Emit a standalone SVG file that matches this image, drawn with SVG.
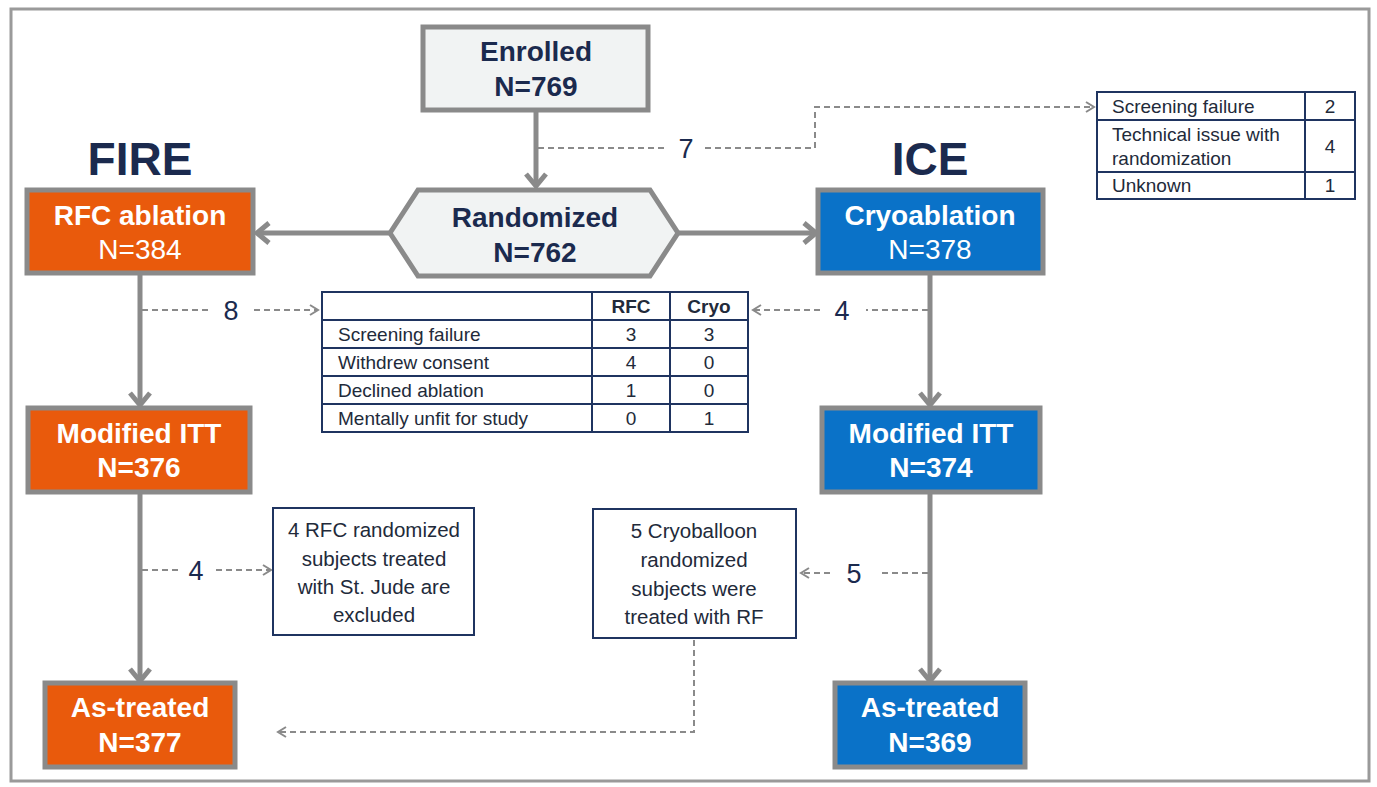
<svg xmlns="http://www.w3.org/2000/svg" width="1377" height="787" viewBox="0 0 1377 787">
<style>
.t{font-family:"Liberation Sans",Arial,sans-serif;}
.b{font-weight:bold;}
.navy{fill:#1b2a4e;}
.w{fill:#ffffff;}
.box{stroke:#8a8a8a;stroke-width:5;}
.orange{fill:#e95a0c;}
.blue{fill:#0a72c8;}
.gray{fill:#f1f3f3;}
.solid{stroke:#8a8a8a;stroke-width:5;fill:none;}
.dash{stroke:#8a8a8a;stroke-width:2;stroke-dasharray:6,4;fill:none;}
.tbl{fill:#ffffff;stroke:#1f3460;stroke-width:2;}
.tl{stroke:#1f3460;stroke-width:2;}
.lbl{font-size:27px;}
.cell{font-size:19px;fill:#222a3a;}
.note{font-size:20.5px;fill:#222a3a;}
</style>
<defs>
<marker id="ah" markerUnits="userSpaceOnUse" markerWidth="30" markerHeight="30" refX="14" refY="12" orient="auto" viewBox="0 0 30 24">
<path d="M2,2 L14,12 L2,22" fill="none" stroke="#8a8a8a" stroke-width="5"/>
</marker>
<marker id="dh" markerUnits="userSpaceOnUse" markerWidth="14" markerHeight="14" refX="9" refY="6" orient="auto" viewBox="0 0 14 12">
<path d="M1,1 L9,6 L1,11" fill="none" stroke="#8a8a8a" stroke-width="2"/>
</marker>
</defs>
<rect x="0" y="0" width="1377" height="787" fill="#ffffff"/>
<rect x="11" y="9" width="1358" height="772" fill="none" stroke="#9a9a9a" stroke-width="3"/>

<g id="connectors">
<line class="solid" x1="536" y1="110" x2="536" y2="186" marker-end="url(#ah)"/>
<line class="solid" x1="390" y1="233" x2="257" y2="233" marker-end="url(#ah)"/>
<line class="solid" x1="678" y1="233" x2="816" y2="233" marker-end="url(#ah)"/>
<line class="solid" x1="140" y1="273" x2="140" y2="405" marker-end="url(#ah)"/>
<line class="solid" x1="930" y1="273" x2="930" y2="405" marker-end="url(#ah)"/>
<line class="solid" x1="140" y1="492" x2="140" y2="681" marker-end="url(#ah)"/>
<line class="solid" x1="930" y1="492" x2="930" y2="681" marker-end="url(#ah)"/>
<path class="dash" d="M538,148 L668,148"/>
<path class="dash" d="M705,148 L815,148 L815,107 L1094,107" marker-end="url(#dh)"/>
<path class="dash" d="M142,310 L208,310"/>
<path class="dash" d="M254,310 L318,310" marker-end="url(#dh)"/>
<path class="dash" d="M928,310 L866,310"/>
<path class="dash" d="M820,310 L753,310" marker-end="url(#dh)"/>
<path class="dash" d="M142,570 L178,570"/>
<path class="dash" d="M216,570 L271,570" marker-end="url(#dh)"/>
<path class="dash" d="M928,573 L880,573"/>
<path class="dash" d="M830,573 L801,573" marker-end="url(#dh)"/>
<path class="dash" d="M694,640 L694,732 L278,732" marker-end="url(#dh)"/>
<text class="t navy lbl" x="686" y="158" text-anchor="middle">7</text>
<text class="t navy lbl" x="231" y="320" text-anchor="middle">8</text>
<text class="t navy lbl" x="842" y="320" text-anchor="middle">4</text>
<text class="t navy lbl" x="196" y="580" text-anchor="middle">4</text>
<text class="t navy lbl" x="854" y="583" text-anchor="middle">5</text>
</g>

<g id="fire-label"><text class="t b navy" x="140" y="175" font-size="46" text-anchor="middle">FIRE</text></g>
<g id="ice-label"><text class="t b navy" x="930" y="175" font-size="46" text-anchor="middle">ICE</text></g>

<g id="enrolled">
<rect class="box gray" x="423" y="27" width="225" height="83"/>
<text class="t b navy" x="536" y="61" font-size="28" text-anchor="middle">Enrolled</text>
<text class="t b navy" x="536" y="96" font-size="28" text-anchor="middle">N=769</text>
</g>

<g id="randomized">
<polygon class="box gray" points="390,233 418,190 650,190 678,233 650,276 418,276"/>
<text class="t b navy" x="535" y="227" font-size="28" text-anchor="middle">Randomized</text>
<text class="t b navy" x="535" y="262" font-size="28" text-anchor="middle">N=762</text>
</g>

<g id="rfc-ablation">
<rect class="box orange" x="27" y="190" width="226" height="83"/>
<text class="t b w" x="140" y="225" font-size="28" text-anchor="middle">RFC ablation</text>
<text class="t w" x="140" y="259" font-size="28" text-anchor="middle">N=384</text>
</g>

<g id="cryoablation">
<rect class="box blue" x="818" y="190" width="225" height="83"/>
<text class="t b w" x="930" y="225" font-size="28" text-anchor="middle">Cryoablation</text>
<text class="t w" x="930" y="259" font-size="28" text-anchor="middle">N=378</text>
</g>

<g id="mitt-rfc">
<rect class="box orange" x="28" y="408" width="222" height="84"/>
<text class="t b w" x="139" y="443" font-size="28" text-anchor="middle">Modified ITT</text>
<text class="t b w" x="139" y="477" font-size="28" text-anchor="middle">N=376</text>
</g>

<g id="mitt-cryo">
<rect class="box blue" x="822" y="408" width="218" height="84"/>
<text class="t b w" x="931" y="443" font-size="28" text-anchor="middle">Modified ITT</text>
<text class="t b w" x="931" y="477" font-size="28" text-anchor="middle">N=374</text>
</g>

<g id="as-treated-rfc">
<rect class="box orange" x="45" y="683" width="190" height="84"/>
<text class="t b w" x="140" y="717" font-size="28" text-anchor="middle">As-treated</text>
<text class="t b w" x="140" y="752" font-size="28" text-anchor="middle">N=377</text>
</g>

<g id="as-treated-cryo">
<rect class="box blue" x="835" y="683" width="190" height="84"/>
<text class="t b w" x="930" y="717" font-size="28" text-anchor="middle">As-treated</text>
<text class="t b w" x="930" y="752" font-size="28" text-anchor="middle">N=369</text>
</g>

<g id="screen-table">
<rect class="tbl" x="1097" y="92" width="258" height="107"/>
<line class="tl" x1="1097" y1="120" x2="1355" y2="120"/>
<line class="tl" x1="1097" y1="172" x2="1355" y2="172"/>
<line class="tl" x1="1305" y1="92" x2="1305" y2="199"/>
<text class="t cell" x="1112" y="113">Screening  failure</text>
<text class="t cell" x="1330" y="113" text-anchor="middle">2</text>
<text class="t cell" x="1112" y="141">Technical  issue with</text>
<text class="t cell" x="1112" y="165">randomization</text>
<text class="t cell" x="1330" y="153" text-anchor="middle">4</text>
<text class="t cell" x="1112" y="192">Unknown</text>
<text class="t cell" x="1330" y="192" text-anchor="middle">1</text>
</g>

<g id="mid-table">
<rect class="tbl" x="322" y="292" width="426" height="140"/>
<line class="tl" x1="322" y1="320" x2="748" y2="320"/>
<line class="tl" x1="322" y1="348" x2="748" y2="348"/>
<line class="tl" x1="322" y1="376" x2="748" y2="376"/>
<line class="tl" x1="322" y1="404" x2="748" y2="404"/>
<line class="tl" x1="592" y1="292" x2="592" y2="432"/>
<line class="tl" x1="670" y1="292" x2="670" y2="432"/>
<text class="t b cell" x="631" y="313" text-anchor="middle">RFC</text>
<text class="t b cell" x="709" y="313" text-anchor="middle">Cryo</text>
<text class="t cell" x="338" y="341">Screening  failure</text>
<text class="t cell" x="631" y="341" text-anchor="middle">3</text>
<text class="t cell" x="709" y="341" text-anchor="middle">3</text>
<text class="t cell" x="338" y="369">Withdrew consent</text>
<text class="t cell" x="631" y="369" text-anchor="middle">4</text>
<text class="t cell" x="709" y="369" text-anchor="middle">0</text>
<text class="t cell" x="338" y="397">Declined  ablation</text>
<text class="t cell" x="631" y="397" text-anchor="middle">1</text>
<text class="t cell" x="709" y="397" text-anchor="middle">0</text>
<text class="t cell" x="338" y="425">Mentally  unfit for study</text>
<text class="t cell" x="631" y="425" text-anchor="middle">0</text>
<text class="t cell" x="709" y="425" text-anchor="middle">1</text>
</g>

<g id="note-rfc">
<rect class="tbl" x="273" y="508" width="201" height="127" stroke-width="1.5"/>
<text class="t note" x="374" y="537" text-anchor="middle">4 RFC randomized</text>
<text class="t note" x="374" y="566" text-anchor="middle">subjects treated</text>
<text class="t note" x="374" y="594" text-anchor="middle">with St. Jude are</text>
<text class="t note" x="374" y="622" text-anchor="middle">excluded</text>
</g>

<g id="note-cryo">
<rect class="tbl" x="593" y="509" width="203" height="129" stroke-width="1.5"/>
<text class="t note" x="694" y="538" text-anchor="middle">5 Cryoballoon</text>
<text class="t note" x="694" y="567" text-anchor="middle">randomized</text>
<text class="t note" x="694" y="596" text-anchor="middle">subjects were</text>
<text class="t note" x="694" y="624" text-anchor="middle">treated with RF</text>
</g>
</svg>
